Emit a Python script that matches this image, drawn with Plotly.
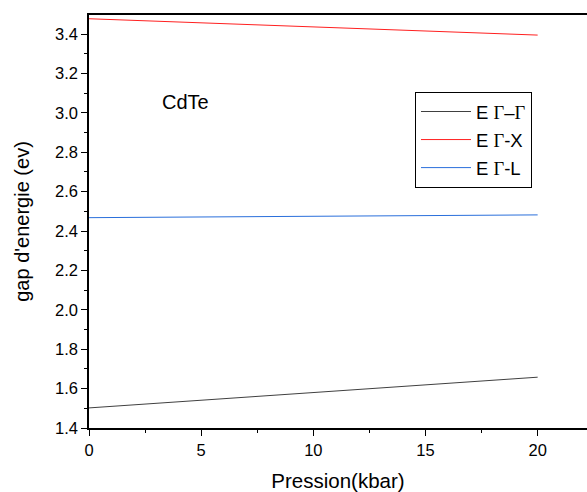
import plotly.graph_objects as go

pression = [0, 20]
e_gg = [1.502, 1.658]
e_gx = [3.478, 3.395]
e_gl = [2.468, 2.482]

G = '<span style="font-family:Liberation Serif">Γ</span>'
names = ["E " + G + "–" + G, "E " + G + "-X", "E " + G + "-L"]
colors = ["#404040", "#ff2020", "#2a6fdb"]

fig = go.Figure()
for i, (y, n, c) in enumerate(zip([e_gg, e_gx, e_gl], names, colors)):
    fig.add_trace(go.Scatter(x=pression, y=y, mode="lines", name=n, legendgroup=str(i),
                             line=dict(color=c, width=1)))

fig.add_annotation(x=4.3, y=3.055, text="CdTe", showarrow=False,
                   font=dict(size=20, color="black"))

fig.update_layout(
    width=587, height=492,
    margin=dict(l=89, r=0, t=15, b=64),
    paper_bgcolor="white", plot_bgcolor="white",
    font=dict(family="Liberation Sans, Arial", size=16.5, color="black"),
    showlegend=True,
    legend=dict(x=0.6546, y=0.8136, xanchor="left", yanchor="top",
                bordercolor="black", borderwidth=1, bgcolor="white",
                font=dict(size=18.5), tracegroupgap=1, itemwidth=50),
    xaxis=dict(range=[0, 22.2], tickvals=[0, 5, 10, 15, 20], ticks="outside",
               ticklen=6, tickwidth=1, tickcolor="black", showline=True,
               linecolor="black", linewidth=1.5, mirror=True, showgrid=False,
               zeroline=False,
               minor=dict(tickvals=[2.5, 7.5, 12.5, 17.5], ticks="outside", ticklen=3, tickcolor="black"),
               title=dict(text="Pression(kbar)", font=dict(size=20.5), standoff=17)),
    yaxis=dict(range=[1.4, 3.497], tickvals=[1.4, 1.6, 1.8, 2.0, 2.2, 2.4, 2.6, 2.8, 3.0, 3.2, 3.4],
               tickformat=".1f", ticks="outside", ticklen=6, tickwidth=1,
               tickcolor="black", showline=True, linecolor="black", linewidth=1.5,
               showgrid=False, zeroline=False,
               minor=dict(tickvals=[1.5, 1.7, 1.9, 2.1, 2.3, 2.5, 2.7, 2.9, 3.1, 3.3], ticks="outside", ticklen=3, tickcolor="black"),
               title=dict(text="gap d'energie (ev)", font=dict(size=20), standoff=20)),
)
fig.write_html("out.html", config={"displayModeBar": False},
               post_script="document.body.style.margin='0px';document.body.style.overflow='hidden';")
